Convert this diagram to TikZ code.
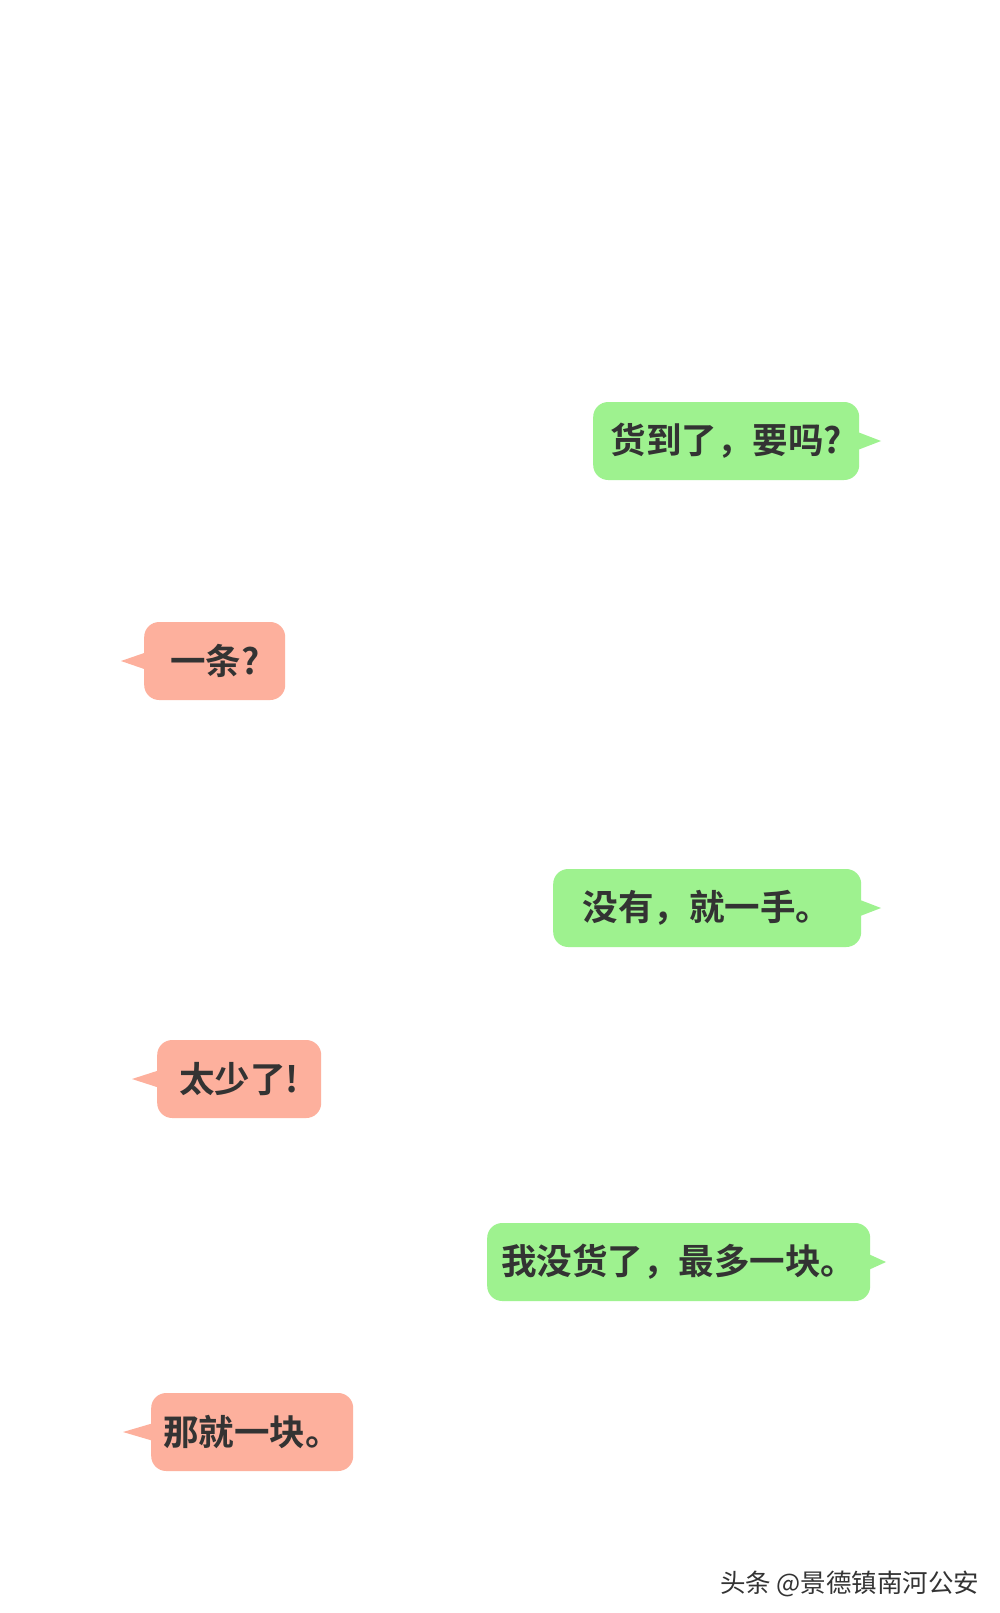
\documentclass[tikz,border=0pt]{standalone}
\usepackage{fontspec}
\newfontfamily\cjk{Noto Sans CJK SC Bold}
\newfontfamily\cjkr{Noto Sans CJK SC}
\definecolor{gb}{HTML}{9EF28F}
\definecolor{pb}{HTML}{FDB09D}
\definecolor{tx}{HTML}{333333}
\tikzset{
 bub/.style={rounded corners=15pt, minimum height=78pt, inner xsep=15pt, anchor=west, text=tx, font=\cjk\fontsize{35.5}{38}\selectfont},
 gbub/.style={bub, fill=gb},
 pbub/.style={bub, fill=pb},
}
\begin{document}
\begin{tikzpicture}[x=1pt,y=-1pt]
\useasboundingbox[fill=white] (0,0) rectangle (1000,1613);
% green 1
\fill[gb] (855,431) -- (881,441) -- (855,451) -- cycle;
\node[gbub, minimum width=266pt] (g1) at (593,441) {货到了，要吗?};
% pink 1
\fill[pb] (150,651) -- (121,661) -- (150,671) -- cycle;
\node[pbub, minimum width=141pt] (p1) at (144,661) {一条?};
% green 2
\fill[gb] (855,898) -- (881,908) -- (855,918) -- cycle;
\node[gbub, minimum width=308pt, inner xsep=27pt] (g2) at (553,908) {没有，就一手。\hfill};
% pink 2
\fill[pb] (163,1069) -- (132,1079) -- (163,1089) -- cycle;
\node[pbub, minimum width=164pt] (p2) at (157,1079) {太少了!};
% green 3
\fill[gb] (864,1252) -- (886,1262) -- (864,1272) -- cycle;
\node[gbub, minimum width=383pt, inner xsep=12pt] (g3) at (487,1262) {我没货了，最多一块。};
% pink 3
\fill[pb] (157,1422) -- (123,1432) -- (157,1442) -- cycle;
\node[pbub, minimum width=202pt, inner xsep=8pt] (p3) at (151,1432) {那就一块。};
\node[anchor=east, text=tx, font=\cjkr\fontsize{25.5}{27}\selectfont] (wm) at (983,1584) {头条 @景德镇南河公安};
\end{tikzpicture}
\end{document}
